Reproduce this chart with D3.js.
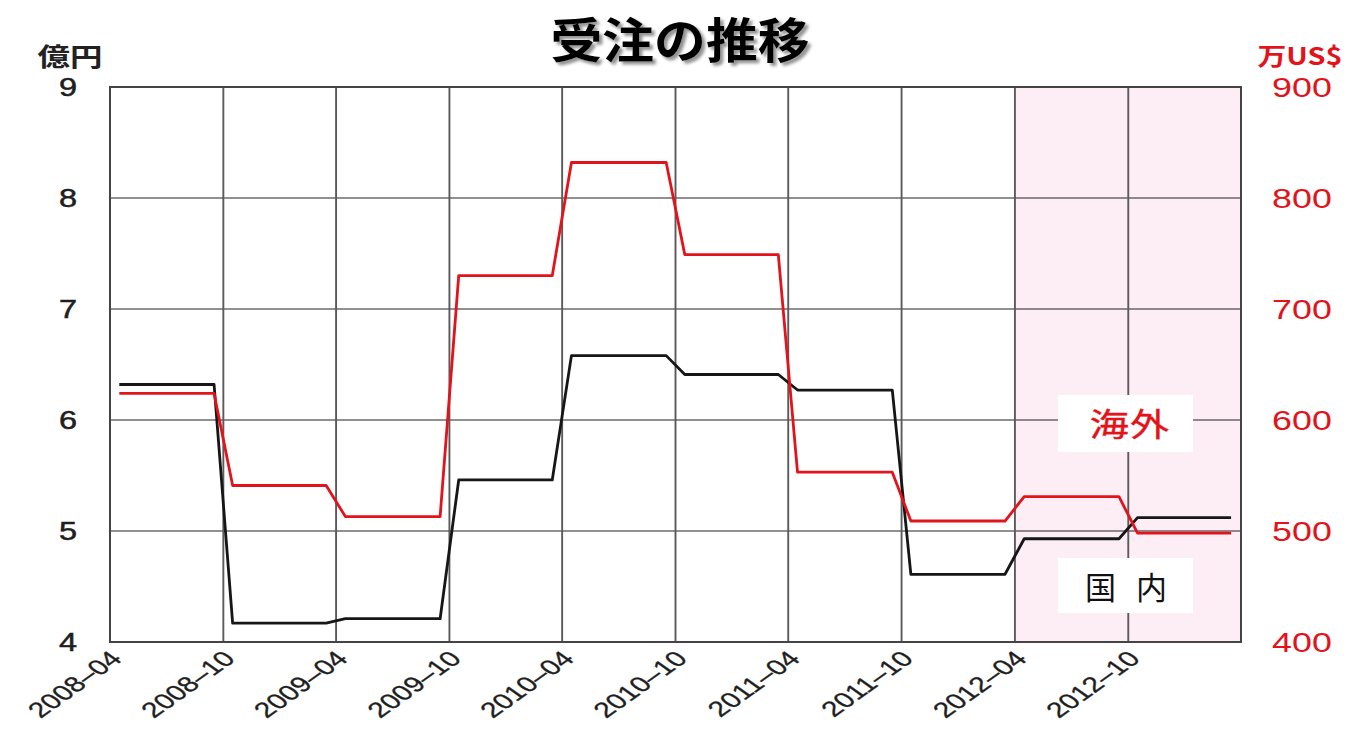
<!DOCTYPE html>
<html>
<head>
<meta charset="utf-8">
<script src="https://cdn.jsdelivr.net/npm/d3@7/dist/d3.min.js"></script>
<style>
  html, body { margin: 0; padding: 0; background: #fff; }
  svg { display: block; }
</style>
</head>
<body>
<svg id="chart" width="1354" height="731"></svg>
<script>
// Months covered by the chart (monthly points, 2008-04 .. 2013-03)
const months = d3.timeMonth.range(new Date(2008, 3, 1), new Date(2013, 3, 1));

// 国内 受注 (億円), one value per month
const domestic = [
  6.32, 6.32, 6.32, 6.32, 6.32, 6.32,
  4.17, 4.17, 4.17, 4.17, 4.17, 4.17,
  4.21, 4.21, 4.21, 4.21, 4.21, 4.21,
  5.46, 5.46, 5.46, 5.46, 5.46, 5.46,
  6.58, 6.58, 6.58, 6.58, 6.58, 6.58,
  6.41, 6.41, 6.41, 6.41, 6.41, 6.41,
  6.27, 6.27, 6.27, 6.27, 6.27, 6.27,
  4.61, 4.61, 4.61, 4.61, 4.61, 4.61,
  4.93, 4.93, 4.93, 4.93, 4.93, 4.93,
  5.12, 5.12, 5.12, 5.12, 5.12, 5.12
];

// 海外 受注 (万US$), one value per month
const overseas = [
  624, 624, 624, 624, 624, 624,
  541, 541, 541, 541, 541, 541,
  513, 513, 513, 513, 513, 513,
  730, 730, 730, 730, 730, 730,
  832, 832, 832, 832, 832, 832,
  749, 749, 749, 749, 749, 749,
  553, 553, 553, 553, 553, 553,
  509, 509, 509, 509, 509, 509,
  531, 531, 531, 531, 531, 531,
  498, 498, 498, 498, 498, 498
];

const xTickLabels = ["2008-04", "2008-10", "2009-04", "2009-10", "2010-04",
                     "2010-10", "2011-04", "2011-10", "2012-04", "2012-10"];
const leftTicks = [4, 5, 6, 7, 8, 9];
const rightTicks = [400, 500, 600, 700, 800, 900];
const shadedFrom = "2012-04";   // outlook period
const title = "受注の推移";
const leftUnit = "億円";
const rightUnit = "万US$";
const labelOverseas = "海外";
const labelDomestic = "国内";

const parseMonth = d3.timeParse("%Y-%m");
const svg = d3.select("#chart");
const m = { left: 110, right: 1241, top: 87, bottom: 642 };

const x = d3.scaleTime()
  .domain([new Date(2008, 3, 1), new Date(2013, 3, 1)])
  .range([m.left, m.right]);
const yL = d3.scaleLinear().domain([4, 9]).range([m.bottom, m.top]);
const yR = d3.scaleLinear().domain([400, 900]).range([m.bottom, m.top]);

// middle of a month
const mid = d => new Date(d.getFullYear(), d.getMonth(), 16);

const RED = "#e3131b";
const INK = "#161616";
const SANS = "'Liberation Sans', Arial, sans-serif";
const CJK = "'Noto Sans CJK JP', 'Noto Sans', sans-serif";

// shaded outlook region
svg.append("rect")
  .attr("x", x(parseMonth(shadedFrom)))
  .attr("y", m.top)
  .attr("width", m.right - x(parseMonth(shadedFrom)))
  .attr("height", m.bottom - m.top)
  .attr("fill", "#fdeef5");

// horizontal grid
svg.append("g")
  .selectAll("line")
  .data(leftTicks.filter(t => t > 4 && t < 9))
  .join("line")
  .attr("x1", m.left).attr("x2", m.right)
  .attr("y1", d => yL(d)).attr("y2", d => yL(d))
  .attr("stroke", "#222").attr("stroke-width", 1.2);

// vertical grid
const xTicks = xTickLabels.map(parseMonth);
svg.append("g")
  .selectAll("line")
  .data(xTicks.slice(1))
  .join("line")
  .attr("x1", d => x(d)).attr("x2", d => x(d))
  .attr("y1", m.top).attr("y2", m.bottom)
  .attr("stroke", "#5a5a5a").attr("stroke-width", 1.9);

// frame
svg.append("rect")
  .attr("x", m.left).attr("y", m.top)
  .attr("width", m.right - m.left).attr("height", m.bottom - m.top)
  .attr("fill", "none").attr("stroke", "#444").attr("stroke-width", 2);

// label boxes
const boxX = 1058, boxW = 135;
svg.append("rect").attr("x", boxX).attr("y", 395).attr("width", boxW).attr("height", 57).attr("fill", "#fff");
svg.append("rect").attr("x", boxX).attr("y", 558).attr("width", boxW).attr("height", 55).attr("fill", "#fff");

// series lines
const lineL = d3.line().x((d, i) => x(mid(months[i]))).y(d => yL(d));
const lineR = d3.line().x((d, i) => x(mid(months[i]))).y(d => yR(d));

svg.append("path").datum(domestic).attr("d", lineL)
  .attr("fill", "none").attr("stroke", INK).attr("stroke-width", 2.8)
  .attr("stroke-linejoin", "round");
svg.append("path").datum(overseas).attr("d", lineR)
  .attr("fill", "none").attr("stroke", RED).attr("stroke-width", 2.8)
  .attr("stroke-linejoin", "round");

// horizontally stretched text helper
function label(txt, px, py, opts) {
  const g = svg.append("g")
    .attr("transform", `translate(${px},${py}) scale(${opts.sx || 1},1) ${opts.rotate ? `rotate(${opts.rotate})` : ""}`);
  const t = g.append("text")
    .attr("text-anchor", opts.anchor || "middle")
    .attr("font-family", opts.family || SANS)
    .attr("font-size", opts.size)
    .attr("font-weight", opts.weight || "normal")
    .attr("fill", opts.fill || INK)
    .text(txt);
  if (opts.spacing) t.attr("letter-spacing", opts.spacing);
  if (opts.stroke) t.attr("stroke", opts.fill || INK).attr("stroke-width", opts.stroke);
  return t;
}

// left axis
leftTicks.forEach(v => label(String(v), 68, yL(v) + 9, { size: 25, sx: 1.3, fill: "#1e1e1e", stroke: 0.5 }));
label(leftUnit, 70, 66, { size: 25, sx: 1.3, family: CJK, weight: 700, fill: "#222" });

// right axis
rightTicks.forEach(v => label(String(v), 1302, yR(v) + 10, { size: 28, sx: 1.28, fill: RED }));
label(rightUnit, 1300, 65, { size: 24, sx: 1.2, family: CJK, weight: 700, fill: RED });

// x axis labels (45° labels, stretched horizontally)
xTicks.forEach((d, i) => {
  label(xTickLabels[i].replace("-", "–"), x(d) - 2, m.bottom + 7,
    { size: 21.5, rotate: -45, anchor: "end", sx: 1.4, fill: "#1e1e1e", stroke: 0.3 })
    .attr("dy", "0.72em");
});

// series labels
label(labelOverseas, 1130, 436, { size: 32, sx: 1.22, family: CJK, weight: 400, fill: RED, spacing: 1, stroke: 0.4 });
label(labelDomestic, 1136, 599, { size: 31, family: CJK, weight: 400, fill: "#111", spacing: 20 });

// title with soft drop shadow
const defs = svg.append("defs");
const f = defs.append("filter").attr("id", "shadow").attr("x", "-10%").attr("y", "-20%").attr("width", "130%").attr("height", "150%");
f.append("feDropShadow").attr("dx", 3).attr("dy", 3).attr("stdDeviation", 1.5).attr("flood-color", "#777").attr("flood-opacity", 0.8);
svg.append("g")
  .attr("transform", "translate(680,58) scale(1.08,1)")
  .append("text")
  .attr("text-anchor", "middle")
  .attr("font-family", CJK)
  .attr("font-size", 48)
  .attr("font-weight", 700)
  .attr("fill", "#000")
  .attr("filter", "url(#shadow)")
  .text(title);
</script>
</body>
</html>
